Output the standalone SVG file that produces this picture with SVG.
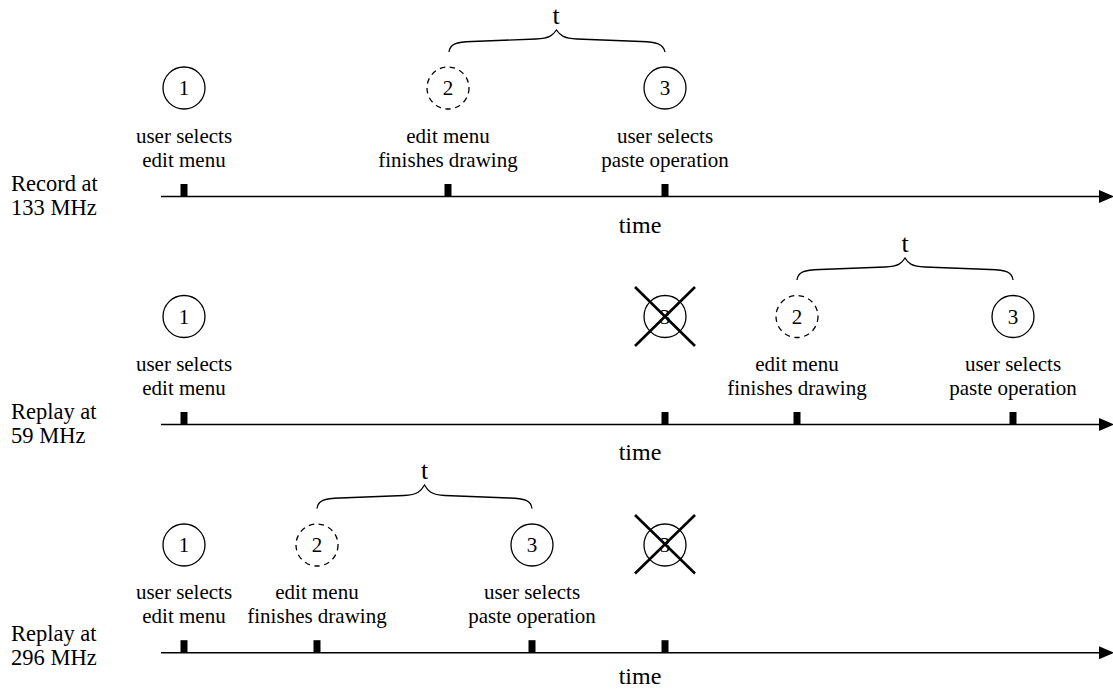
<svg xmlns="http://www.w3.org/2000/svg" width="1113" height="689" viewBox="0 0 1113 689">
<defs>
<style>
text{font-family:"Liberation Serif","Times New Roman",serif;fill:#000}
.ev{font-size:21px;text-anchor:middle}
.num{font-size:21px;text-anchor:middle}
.lab{font-size:22.5px}
.time{font-size:24px;text-anchor:middle}
.t{font-size:26px;text-anchor:middle}
.circ{fill:none;stroke:#000;stroke-width:1.3}
.dash{stroke-dasharray:5.5 4.5}
.axis{stroke:#000;stroke-width:1.4;fill:none}
.brace{stroke:#000;stroke-width:1.3;fill:none}
.x{stroke:#000;stroke-width:2.6}
.tick{fill:#000}
</style>
<marker id="arr" markerUnits="userSpaceOnUse" markerWidth="16" markerHeight="14" refX="0" refY="6.5" orient="auto">
<path d="M0,0 L15,6.5 L0,13 Z" fill="#000"/>
</marker>
</defs>

<!-- Row 1 -->
<g id="row1-label"><text class="lab" x="11" y="191">Record at</text><text class="lab" x="11" y="215">133 MHz</text></g>
<g id="row1-e1"><circle class="circ" cx="184" cy="88" r="21"/><text class="num" x="184" y="95">1</text><text class="ev" x="184" y="143">user selects</text><text class="ev" x="184" y="167">edit menu</text></g>
<g id="row1-e2"><circle class="circ dash" cx="448" cy="88" r="21"/><text class="num" x="448" y="95">2</text><text class="ev" x="448" y="143">edit menu</text><text class="ev" x="448" y="167">finishes drawing</text></g>
<g id="row1-e3"><circle class="circ" cx="665" cy="88" r="21"/><text class="num" x="665" y="95">3</text><text class="ev" x="665" y="143">user selects</text><text class="ev" x="665" y="167">paste operation</text></g>
<g id="row1-brace"><path class="brace" d="M449,52 C450,44 456,42 472,41.5 L536,39 C550,38.5 553,35 556.5,30 C560,35 563,38.5 577,39 L641,41.5 C657,42 663,44 665,52"/><text class="t" x="556" y="24">t</text></g>
<g id="row1-time"><text class="time" x="640" y="233">time</text></g>

<!-- Row 2 -->
<g id="row2-label"><text class="lab" x="11" y="419">Replay at</text><text class="lab" x="11" y="443">59 MHz</text></g>
<g id="row2-e1"><circle class="circ" cx="184" cy="316.5" r="21"/><text class="num" x="184" y="323.5">1</text><text class="ev" x="184" y="371">user selects</text><text class="ev" x="184" y="395">edit menu</text></g>
<g id="row2-ex"><circle class="circ" cx="665" cy="316.5" r="21"/><text class="num" x="665" y="323.5">3</text><line class="x" x1="635" y1="287" x2="695" y2="346"/><line class="x" x1="695" y1="287" x2="635" y2="346"/></g>
<g id="row2-e2"><circle class="circ dash" cx="797" cy="316.5" r="21"/><text class="num" x="797" y="323.5">2</text><text class="ev" x="797" y="371">edit menu</text><text class="ev" x="797" y="395">finishes drawing</text></g>
<g id="row2-e3"><circle class="circ" cx="1013" cy="316.5" r="21"/><text class="num" x="1013" y="323.5">3</text><text class="ev" x="1013" y="371">user selects</text><text class="ev" x="1013" y="395">paste operation</text></g>
<g id="row2-brace"><path class="brace" d="M797,280 C798,272 804,270 820,269.5 L885,267 C899,266.5 902,263 905,258 C908,263 911,266.5 925,267 L990,269.5 C1006,270 1012,272 1013,280"/><text class="t" x="905" y="252">t</text></g>
<g id="row2-time"><text class="time" x="640" y="460">time</text></g>

<!-- Row 3 -->
<g id="row3-label"><text class="lab" x="11" y="641">Replay at</text><text class="lab" x="11" y="665">296 MHz</text></g>
<g id="row3-e1"><circle class="circ" cx="184" cy="545" r="21"/><text class="num" x="184" y="552">1</text><text class="ev" x="184" y="598.5">user selects</text><text class="ev" x="184" y="623">edit menu</text></g>
<g id="row3-e2"><circle class="circ dash" cx="317" cy="545" r="21"/><text class="num" x="317" y="552">2</text><text class="ev" x="317" y="598.5">edit menu</text><text class="ev" x="317" y="623">finishes drawing</text></g>
<g id="row3-e3"><circle class="circ" cx="532" cy="545" r="21"/><text class="num" x="532" y="552">3</text><text class="ev" x="532" y="598.5">user selects</text><text class="ev" x="532" y="623">paste operation</text></g>
<g id="row3-ex"><circle class="circ" cx="665" cy="545" r="21"/><text class="num" x="665" y="552">3</text><line class="x" x1="635" y1="515" x2="695" y2="573.5"/><line class="x" x1="695" y1="515" x2="635" y2="573.5"/></g>
<g id="row3-brace"><path class="brace" d="M317,508.5 C318,500.5 324,498.5 340,498 L404,495.5 C418,495 421,491 424.5,485 C428,491 431,495 445,495.5 L509,498 C525,498.5 531,500.5 532,508.5"/><text class="t" x="424.5" y="479">t</text></g>
<g id="row3-time"><text class="time" x="640" y="684">time</text></g>

<!-- Connectors: time axes and ticks -->
<g id="connectors">
<line class="axis" x1="161" y1="196.5" x2="1099" y2="196.5" marker-end="url(#arr)"/>
<line class="axis" x1="161" y1="424.5" x2="1099" y2="424.5" marker-end="url(#arr)"/>
<line class="axis" x1="161" y1="652.7" x2="1099" y2="652.7" marker-end="url(#arr)"/>
<rect class="tick" x="180.5" y="184" width="7" height="12.5"/>
<rect class="tick" x="444.5" y="184" width="7" height="12.5"/>
<rect class="tick" x="661.5" y="184" width="7" height="12.5"/>
<rect class="tick" x="180.5" y="412" width="7" height="12.5"/>
<rect class="tick" x="661.5" y="412" width="7" height="12.5"/>
<rect class="tick" x="793.5" y="412" width="7" height="12.5"/>
<rect class="tick" x="1009.5" y="412" width="7" height="12.5"/>
<rect class="tick" x="180.5" y="640.2" width="7" height="12.5"/>
<rect class="tick" x="313.5" y="640.2" width="7" height="12.5"/>
<rect class="tick" x="528.5" y="640.2" width="7" height="12.5"/>
<rect class="tick" x="661.5" y="640.2" width="7" height="12.5"/>
</g>
</svg>
